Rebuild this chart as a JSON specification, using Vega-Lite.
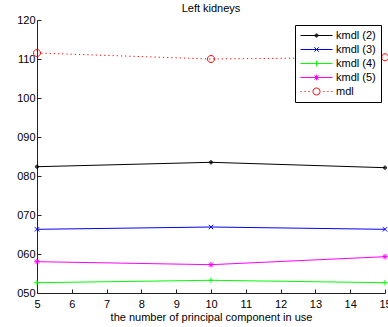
{
  "$schema": "https://vega.github.io/schema/vega-lite/v6.json",
  "width": 348,
  "height": 273,
  "autosize": "none",
  "padding": {"left": 37, "top": 20, "right": 3, "bottom": 34},
  "background": "white",
  "title": {"text": "Left kidneys", "font": "Liberation Sans", "fontSize": 11, "fontWeight": "normal", "color": "black", "offset": 0},
  "config": {
    "view": {"stroke": null},
    "font": "Liberation Sans"
  },
  "data": {
    "values": [
      {"series": "kmdl (2)", "n": 5, "value": 0.108238},
      {"series": "kmdl (2)", "n": 10, "value": 0.108351},
      {"series": "kmdl (2)", "n": 15, "value": 0.108213},
      {"series": "kmdl (3)", "n": 5, "value": 0.106633},
      {"series": "kmdl (3)", "n": 10, "value": 0.106692},
      {"series": "kmdl (3)", "n": 15, "value": 0.106633},
      {"series": "kmdl (4)", "n": 5, "value": 0.105264},
      {"series": "kmdl (4)", "n": 10, "value": 0.105326},
      {"series": "kmdl (4)", "n": 15, "value": 0.105264},
      {"series": "kmdl (5)", "n": 5, "value": 0.105803},
      {"series": "kmdl (5)", "n": 10, "value": 0.105726},
      {"series": "kmdl (5)", "n": 15, "value": 0.105931},
      {"series": "mdl", "n": 5, "value": 0.111154},
      {"series": "mdl", "n": 10, "value": 0.111000},
      {"series": "mdl", "n": 15, "value": 0.111044}
    ]
  },
  "encoding": {
    "x": {
      "field": "n", "type": "quantitative",
      "scale": {"domain": [5, 15], "nice": false, "zero": false},
      "axis": {
        "title": "the number of principal component in use",
        "values": [5, 6, 7, 8, 9, 10, 11, 12, 13, 14, 15],
        "format": "d",
        "grid": false,
        "domainColor": "#222", "tickColor": "#222",
        "tickSize": -4, "labelPadding": 9,
        "labelFont": "Liberation Sans", "labelFontSize": 11, "labelColor": "black",
        "labelFlush": false, "labelOverlap": false,
        "titleFont": "Liberation Sans", "titleFontSize": 11, "titleFontWeight": "normal", "titleColor": "black",
        "titlePadding": 2
      }
    },
    "y": {
      "field": "value", "type": "quantitative",
      "scale": {"domain": [0.105, 0.112], "nice": false, "zero": false},
      "axis": {
        "title": null,
        "values": [0.105, 0.106, 0.107, 0.108, 0.109, 0.110, 0.111, 0.112],
        "labelExpr": "slice(format(datum.value, '.4f'), -3)",
        "grid": false,
        "domainColor": "#222", "tickColor": "#222",
        "tickSize": -4, "labelPadding": 6,
        "labelFont": "Liberation Sans", "labelFontSize": 11, "labelColor": "black",
        "labelOverlap": false
      }
    },
    "color": {
      "field": "series", "type": "nominal",
      "scale": {
        "domain": ["kmdl (2)", "kmdl (3)", "kmdl (4)", "kmdl (5)", "mdl"],
        "range": ["#000000", "#0000ff", "#00ff00", "#ff00ff", "#ff0000"]
      },
      "legend": {
        "title": null,
        "orient": "none",
        "legendX": 258,
        "legendY": 5,
        "strokeColor": "black",
        "fillColor": "white",
        "padding": 5,
        "symbolSize": 64,
        "symbolStrokeWidth": 1,
        "symbolOpacity": 1,
        "symbolOffset": 11,
        "labelOffset": 14,
        "rowPadding": 2,
        "labelFont": "Liberation Sans",
        "labelFontSize": 11,
        "labelColor": "black"
      }
    }
  },
  "layer": [
    {
      "transform": [{"filter": "datum.series != 'mdl'"}],
      "mark": {"type": "line", "strokeWidth": 1}
    },
    {
      "transform": [{"filter": "datum.series == 'mdl'"}],
      "mark": {"type": "line", "strokeWidth": 1, "strokeDash": [1.2, 3]}
    },
    {
      "mark": {"type": "point", "filled": false, "size": 64, "strokeWidth": 1, "opacity": 0},
      "encoding": {
        "shape": {
          "field": "series", "type": "nominal",
          "scale": {
            "domain": ["kmdl (2)", "kmdl (3)", "kmdl (4)", "kmdl (5)", "mdl"],
            "range": [
              "M-4,0H4M0.4,0A0.4,0.4 0 1 1 -0.4,0A0.4,0.4 0 1 1 0.4,0ZM0.2,0A0.2,0.2 0 1 1 -0.2,0A0.2,0.2 0 1 1 0.2,0Z",
              "M-4,0H4M-0.55,-0.55L0.55,0.55M-0.55,0.55L0.55,-0.55",
              "M-4,0H4M0,-0.7V0.7",
              "M-4,0H4M0,-0.7V0.7M-0.5,-0.5L0.5,0.5M-0.5,0.5L0.5,-0.5",
              "M-4,0h0.3M-3,0h0.3M-2,0h0.3M1.7,0h0.3M2.7,0h0.3M3.7,0h0.3M0.875,0A0.875,0.875 0 1 1 -0.875,0A0.875,0.875 0 1 1 0.875,0Z"
            ]
          }
        }
      }
    },
    {
      "transform": [{"filter": "datum.series == 'kmdl (2)'"}],
      "mark": {"type": "point", "filled": false, "size": 64, "strokeWidth": 1, "opacity": 1,
               "shape": "M0.4,0A0.4,0.4 0 1 1 -0.4,0A0.4,0.4 0 1 1 0.4,0ZM0.2,0A0.2,0.2 0 1 1 -0.2,0A0.2,0.2 0 1 1 0.2,0Z"}
    },
    {
      "transform": [{"filter": "datum.series == 'kmdl (3)'"}],
      "mark": {"type": "point", "filled": false, "size": 64, "strokeWidth": 1, "opacity": 1,
               "shape": "M-0.55,-0.55L0.55,0.55M-0.55,0.55L0.55,-0.55"}
    },
    {
      "transform": [{"filter": "datum.series == 'kmdl (4)'"}],
      "mark": {"type": "point", "filled": false, "size": 64, "strokeWidth": 1, "opacity": 1,
               "shape": "M-0.7,0H0.7M0,-0.7V0.7"}
    },
    {
      "transform": [{"filter": "datum.series == 'kmdl (5)'"}],
      "mark": {"type": "point", "filled": false, "size": 64, "strokeWidth": 1, "opacity": 1,
               "shape": "M-0.7,0H0.7M0,-0.7V0.7M-0.5,-0.5L0.5,0.5M-0.5,0.5L0.5,-0.5"}
    },
    {
      "transform": [{"filter": "datum.series == 'mdl'"}],
      "mark": {"type": "point", "filled": false, "size": 64, "strokeWidth": 1, "opacity": 1,
               "shape": "M0.875,0A0.875,0.875 0 1 1 -0.875,0A0.875,0.875 0 1 1 0.875,0Z"}
    }
  ]
}
